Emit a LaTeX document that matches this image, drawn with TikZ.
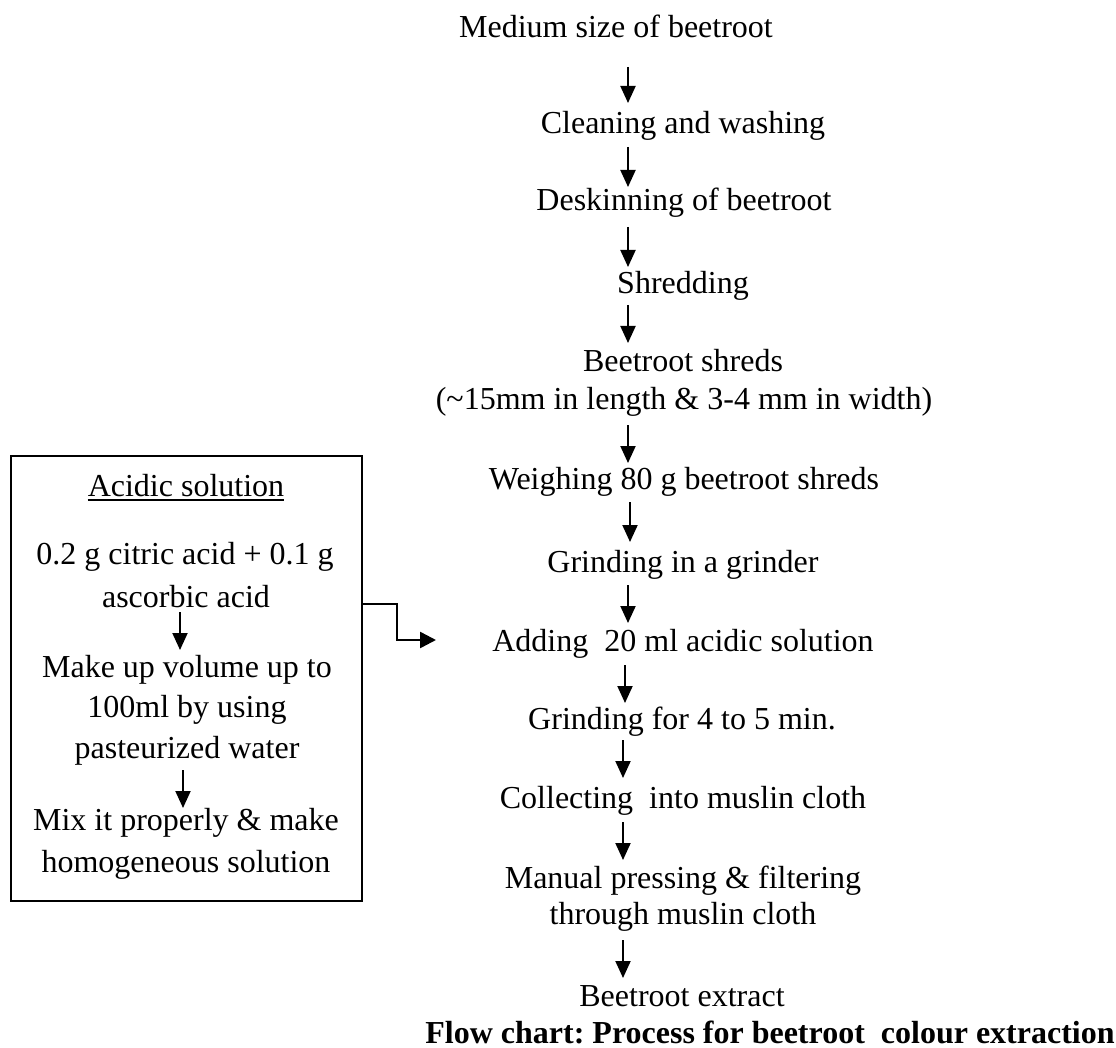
\documentclass[tikz,border=0pt]{standalone}
\usepackage{fontspec}
\setmainfont{Liberation Serif}
\usetikzlibrary{arrows.meta}
\frenchspacing
\begin{document}
\begin{tikzpicture}[x=1pt,y=-1pt,
  txt/.style={anchor=base,inner sep=0pt,font=\fontsize{32}{38}\selectfont},
  ttl/.style={anchor=base,inner sep=0pt,font=\fontsize{32}{38}\selectfont\bfseries},
  arr/.style={line width=2pt,-{Triangle[length=17pt,width=15pt]}},
  conn/.style={line width=2.5pt,-{Triangle[length=16pt,width=16pt]}},
  frame/.style={draw,line width=1.2pt,inner sep=0pt}]
\useasboundingbox (0,0) rectangle (1116,1048);

% main column
\node[txt] (n1)  at (616,38)   {Medium size of beetroot};
\node[txt] (n2)  at (683,134)  {Cleaning and washing};
\node[txt] (n3)  at (684,211)  {Deskinning of beetroot};
\node[txt] (n4)  at (683,294)  {Shredding};
\node[txt] (n5a) at (683,371)  {Beetroot shreds};
\node[txt] (n5b) at (684,409)  {(\textasciitilde15mm in length \& 3-4 mm in width)};
\node[txt] (n6)  at (684,489)  {Weighing 80 g beetroot shreds};
\node[txt] (n7)  at (683,572)  {Grinding in a grinder};
\node[txt] (n8)  at (683,651)  {Adding\ \ 20 ml acidic solution};
\node[txt] (n9)  at (682,729)  {Grinding for 4 to 5 min.};
\node[txt] (n10) at (683,808)  {Collecting\ \ into muslin cloth};
\node[txt] (n11a) at (683,888) {Manual pressing \& filtering};
\node[txt] (n11b) at (683,924) {through muslin cloth};
\node[txt] (n12) at (682,1006) {Beetroot extract};
\node[ttl] (cap) at (770,1043) {Flow chart: Process for beetroot\ \ colour extraction};

% arrow end points
\coordinate (a1s) at (628,67);   \coordinate (a1e) at (628,103);
\coordinate (a2s) at (628,147);  \coordinate (a2e) at (628,187);
\coordinate (a3s) at (628,227);  \coordinate (a3e) at (628,267);
\coordinate (a4s) at (628,305);  \coordinate (a4e) at (628,343);
\coordinate (a5s) at (628,425);  \coordinate (a5e) at (628,463);
\coordinate (a6s) at (630,502);  \coordinate (a6e) at (630,542);
\coordinate (a7s) at (628,585);  \coordinate (a7e) at (628,623);
\coordinate (a8s) at (625,665);  \coordinate (a8e) at (625,703);
\coordinate (a9s) at (623,740);  \coordinate (a9e) at (623,778);
\coordinate (a10s) at (623,822); \coordinate (a10e) at (623,860);
\coordinate (a11s) at (623,940); \coordinate (a11e) at (623,978);
\foreach \i in {1,...,11} {\draw[arr] (a\i s) -- (a\i e);}

% acidic solution box
\node[frame, minimum width=351pt, minimum height=445pt] (acid) at (186.5,678.5) {};
\node[txt] (b0) at (186,496) {Acidic solution};
\draw[line width=1.5pt] ([yshift=-4pt]b0.base west) -- ([yshift=-4pt]b0.base east);
\node[txt] (b1a) at (185,564) {0.2 g citric acid + 0.1 g};
\node[txt] (b1b) at (186,607) {ascorbic acid};
\node[txt] (b2a) at (187,677) {Make up volume up to};
\node[txt] (b2b) at (187,717) {100ml by using};
\node[txt] (b2c) at (187,758) {pasteurized water};
\node[txt] (b3a) at (186,830) {Mix it properly \& make};
\node[txt] (b3b) at (186,872) {homogeneous solution};
\coordinate (ba1s) at (180,612); \coordinate (ba1e) at (180,650);
\coordinate (ba2s) at (183,770); \coordinate (ba2e) at (183,808);
\draw[arr] (ba1s) -- (ba1e);
\draw[arr] (ba2s) -- (ba2e);

% connector box -> adding
\coordinate (cy) at (0,604);
\coordinate (c1) at (397,604);
\coordinate (c2) at (397,640);
\coordinate (c3) at (436,640);
\draw[conn] (acid.east |- cy) -- (c1) -- (c2) -- (c3);
\end{tikzpicture}
\end{document}
